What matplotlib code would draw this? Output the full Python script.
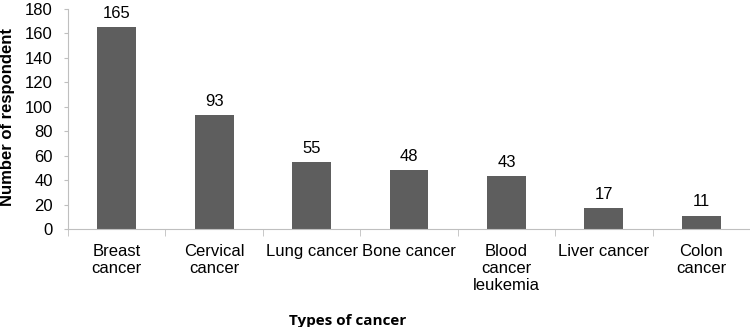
import numpy as np
import matplotlib.pyplot as plt

plt.rcParams['font.family'] = ['Liberation Sans', 'DejaVu Sans']

cancer_types = ['Breast\ncancer', 'Cervical\ncancer', 'Lung cancer', 'Bone cancer',
                'Blood\ncancer\nleukemia', 'Liver cancer', 'Colon\ncancer']
respondents = [165, 93, 55, 48, 43, 17, 11]
y_ticks = [0, 20, 40, 60, 80, 100, 120, 140, 160, 180]

fig = plt.figure(figsize=(7.5, 3.27), dpi=100)
ax = fig.add_axes([68 / 750, 1 - 229 / 327, 682 / 750, 220 / 327])

x = np.arange(len(cancer_types))
bars = ax.bar(x, respondents, width=0.4, color='#5e5e5e')

# value labels above the bars
for b, v in zip(bars, respondents):
    ax.text(b.get_x() + b.get_width() / 2, v + 5, str(v),
            ha='center', va='bottom', fontsize=12)

ax.set_xlim(-0.5, len(cancer_types) - 0.5)
ax.set_ylim(0, 180)
ax.set_yticks(y_ticks)
ax.tick_params(axis='y', labelsize=12, length=3, color='#bfbfbf', pad=8)

# category labels between boundary ticks
ax.set_xticks(x)
ax.set_xticklabels(cancer_types, fontsize=12, linespacing=1.15)
ax.tick_params(axis='x', length=0, pad=11)
ax.set_xticks(np.arange(-0.5, len(cancer_types)), minor=True)
ax.tick_params(axis='x', which='minor', length=5, color='#bfbfbf')

for s in ['top', 'right']:
    ax.spines[s].set_visible(False)
for s in ['left', 'bottom']:
    ax.spines[s].set_color('#bfbfbf')

ax.set_ylabel('Number of respondent', fontsize=12, fontweight='bold')
ax.yaxis.set_label_coords(-0.078, 0.507)
fig.text(348 / 750, 1 - 321 / 327, 'Types of cancer', ha='center', va='center',
         fontsize=11, fontweight='bold', family=['Open Sans', 'DejaVu Sans'])

fig.savefig('out.png', dpi=100)
